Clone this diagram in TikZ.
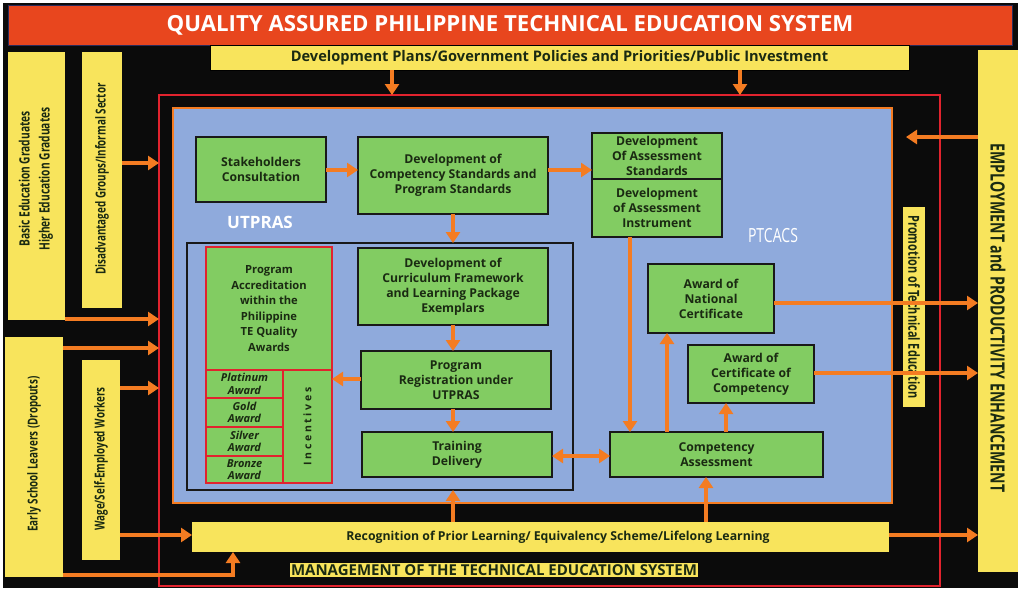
\documentclass[tikz,border=0pt]{standalone}
\usepackage{fontspec}
\setmainfont{Open Sans}
\newfontfamily\condf[FakeStretch=0.72]{Open Sans}
\newfontfamily\spacedf[LetterSpace=26]{Open Sans}
\usetikzlibrary{arrows.meta}
\definecolor{bgblack}{HTML}{0B0B0B}
\definecolor{titlered}{HTML}{E8461E}
\definecolor{titleedge}{HTML}{2A2A5A}
\definecolor{ylw}{HTML}{F8E45C}
\definecolor{bluef}{HTML}{8FAADC}
\definecolor{grn}{HTML}{82CC62}
\definecolor{org}{HTML}{F47C22}
\definecolor{redl}{HTML}{E1232E}
\definecolor{txt}{HTML}{1A2A12}
\begin{document}
\begin{tikzpicture}[x=1pt,y=-1pt,
  blk/.style={anchor=north west, inner sep=0pt, outer sep=0pt},
  box/.style={blk, draw=black!90, line width=1.6pt, fill=grn, text=txt, align=center,
    font=\bfseries\fontsize{12.2}{15}\selectfont},
  rbox/.style={box, draw=redl, line width=1.4pt},
  ybox/.style={blk, fill=ylw},
  vtext/.style={align=center, text=txt, font=\condf\bfseries\fontsize{13.7}{20}\selectfont},
  awd/.style={rbox, minimum width=77pt, font=\bfseries\itshape\fontsize{11}{12.5}\selectfont},
  arr/.style={draw=org, line width=4.4pt, -{Triangle[width=14pt,length=11pt]}},
  darr/.style={draw=org, line width=4.4pt, {Triangle[width=14pt,length=11pt]}-{Triangle[width=14pt,length=11pt]}},
]
\useasboundingbox (0,0) rectangle (1020,590);
\fill[white] (0,0) rectangle (1020,590);
\fill[bgblack] (3,3) rectangle (1018,588);

% title and top bar
\node[blk, fill=titlered, draw=titleedge, line width=1pt, minimum width=1004pt, minimum height=40pt,
  text=white, font=\bfseries\fontsize{22.2}{26}\selectfont] (title) at (8,5)
  {QUALITY ASSURED PHILIPPINE TECHNICAL EDUCATION SYSTEM};
\node[ybox, draw=black, line width=0.8pt, minimum width=699pt, minimum height=25pt, text=txt,
  font=\bfseries\fontsize{14.6}{17}\selectfont] (topbar) at (210,45)
  {Development Plans/Government Policies and Priorities/Public Investment};

% left columns
\node[ybox, minimum width=57pt, minimum height=268pt] (col1) at (8,52) {};
\node[vtext, rotate=90, font=\condf\bfseries\fontsize{14.2}{20}\selectfont] (col1t) at (36,179) {Basic Education Graduates\\Higher Education Graduates};
\node[ybox, minimum width=40pt, minimum height=256pt] (col2) at (82,52) {};
\node[vtext, rotate=90] (col2t) at (102,179) {Disadvantaged Groups/Informal Sector};
\node[ybox, minimum width=58pt, minimum height=240pt] (col3) at (5,337) {};
\node[vtext, rotate=90] (col3t) at (34,454) {Early School Leavers (Dropouts)};
\node[ybox, minimum width=38pt, minimum height=200pt] (col4) at (82,360) {};
\node[vtext, rotate=90] (col4t) at (101,459) {Wage/Self-Employed Workers};

% right column
\node[ybox, minimum width=40pt, minimum height=522pt] (rightcol) at (978,50) {};
\node[vtext, rotate=-90, font=\condf\bfseries\fontsize{19.6}{22}\selectfont] (rightt) at (998,318)
  {EMPLOYMENT and PRODUCTIVITY ENHANCEMENT};

% frames
\node[blk, draw=redl, line width=2.8pt, minimum width=781pt, minimum height=491pt] (redframe) at (159,95) {};
\node[blk, draw=org, fill=bluef, line width=2.5pt, minimum width=719pt, minimum height=395pt] (blue) at (173,108) {};
\node[ybox, minimum width=22pt, minimum height=200pt] (promo) at (903,207) {};
\node[vtext, rotate=-90, font=\condf\bfseries\fontsize{15.2}{16}\selectfont] (promot) at (914,307)
  {Promotion of Technical Education};

% bottom bar
\node[ybox, minimum width=697pt, minimum height=30pt] (rpl) at (192,522) {};
\node[text=txt, font=\bfseries\fontsize{12.3}{14}\selectfont] (rplt) at (558,537)
  {Recognition of Prior Learning/ Equivalency Scheme/Lifelong Learning};
\node[fill=ylw, inner xsep=1pt, inner ysep=1pt, text=txt, font=\bfseries\fontsize{15}{17}\selectfont] (mgmt) at (494,570)
  {MANAGEMENT OF THE TECHNICAL EDUCATION SYSTEM};

% UTPRAS part
\node[box, minimum width=130pt, minimum height=65pt] (sc) at (196,137) {Stakeholders\\Consultation};
\node[box, minimum width=190pt, minimum height=77pt] (dcs) at (358,137)
  {Development of\\Competency Standards and\\Program Standards};
\node[box, minimum width=130pt, minimum height=46pt] (das1) at (592,133)
  {Development\\Of Assessment\\Standards};
\node[box, minimum width=130pt, minimum height=58pt] (das2) at (592,179)
  {Development\\of Assessment\\Instrument};
\node[blk, draw=black!90, line width=1.8pt, minimum width=386pt, minimum height=247pt] (utp) at (187,243) {};
\node[rbox, minimum width=126pt, minimum height=123pt, font=\bfseries\fontsize{11.2}{15.5}\selectfont] (pa) at (206,247)
  {Program\\Accreditation\\within the\\Philippine\\TE Quality\\Awards};
\node[awd, minimum height=28pt] (aw1) at (206,370) {Platinum\\Award};
\node[awd, minimum height=29pt] (aw2) at (206,398) {Gold\\Award};
\node[awd, minimum height=29pt] (aw3) at (206,427) {Silver\\Award};
\node[awd, minimum height=27pt] (aw4) at (206,456) {Bronze\\Award};
\node[rbox, minimum width=49pt, minimum height=113pt] (inc) at (283,370) {};
\node[rotate=90, text=txt, font=\spacedf\bfseries\fontsize{10.5}{12}\selectfont] (inct) at (inc.center) {Incentives};
\node[box, minimum width=190pt, minimum height=77pt] (dcf) at (358,248)
  {Development of\\Curriculum Framework\\and Learning Package\\Exemplars};
\node[box, minimum width=190pt, minimum height=58pt] (preg) at (361,351)
  {Program\\Registration under\\UTPRAS};
\node[box, minimum width=190pt, minimum height=45pt] (td) at (362,432) {Training\\Delivery};

% PTCACS part
\node[box, minimum width=213pt, minimum height=45pt] (ca) at (610,432) {Competency\\Assessment};
\node[box, minimum width=126pt, minimum height=69pt] (anc) at (648,264) {Award of\\National\\Certificate};
\node[box, minimum width=126pt, minimum height=58pt] (acc) at (688,345) {Award of\\Certificate of\\Competency};

\node[text=white, font=\bfseries\fontsize{17}{19}\selectfont] (utplabel) at (260,222) {UTPRAS};
\node[text=white, font=\condf\fontsize{19.5}{22}\selectfont] (ptlabel) at (773,236) {PTCACS};

% level coordinates
\coordinate (x392) at (392,0); \coordinate (x740) at (740,0);
\coordinate (x453) at (453,0); \coordinate (x706) at (706,0);
\coordinate (x630) at (630,0); \coordinate (x667) at (667,0);
\coordinate (x726) at (726,0); \coordinate (x233) at (233,0);
\coordinate (x906) at (906,0);
\coordinate (y163) at (0,163); \coordinate (y319) at (0,319);
\coordinate (y348) at (0,348); \coordinate (y388) at (0,388);
\coordinate (y535) at (0,535); \coordinate (y575) at (0,575);
\coordinate (y137) at (0,137); \coordinate (y303) at (0,303);
\coordinate (y373) at (0,373); \coordinate (y170) at (0,170);
\coordinate (y379) at (0,379); \coordinate (y456) at (0,456);

% arrows
\draw[arr] (topbar.south -| x392) -- (redframe.north -| x392);
\draw[arr] (topbar.south -| x740) -- (redframe.north -| x740);
\draw[arr] (col2.east |- y163) -- (redframe.west |- y163);
\draw[arr] (col1.east |- y319) -- (redframe.west |- y319);
\draw[arr] (col3.east |- y348) -- (redframe.west |- y348);
\draw[arr] (col4.east |- y388) -- (redframe.west |- y388);
\draw[arr] (col4.east |- y535) -- (rpl.west |- y535);
\draw[arr] (col3.east |- y575) -- (x233 |- y575) -- (rpl.south -| x233);
\draw[arr] (rpl.east |- y535) -- (rightcol.west |- y535);
\draw[arr] (rpl.north -| x453) -- (utp.south -| x453);
\draw[arr] (rpl.north -| x706) -- (ca.south -| x706);
\draw[arr] (rightcol.west |- y137) -- (x906 |- y137);
\draw[arr] (anc.east |- y303) -- (rightcol.west |- y303);
\draw[arr] (acc.east |- y373) -- (rightcol.west |- y373);
\draw[arr] (sc.east |- y170) -- (dcs.west |- y170);
\draw[arr] (dcs.east |- y170) -- (das1.west |- y170);
\draw[arr] (dcs.south -| x453) -- (utp.north -| x453);
\draw[arr] (dcf.south -| x453) -- (preg.north -| x453);
\draw[arr] (preg.south -| x453) -- (td.north -| x453);
\draw[arr] (preg.west |- y379) -- (inc.east |- y379);
\draw[darr] (td.east |- y456) -- (ca.west |- y456);
\draw[arr] (das2.south -| x630) -- (ca.north -| x630);
\draw[arr] (ca.north -| x667) -- (anc.south -| x667);
\draw[arr] (ca.north -| x726) -- (acc.south -| x726);
\end{tikzpicture}
\end{document}
